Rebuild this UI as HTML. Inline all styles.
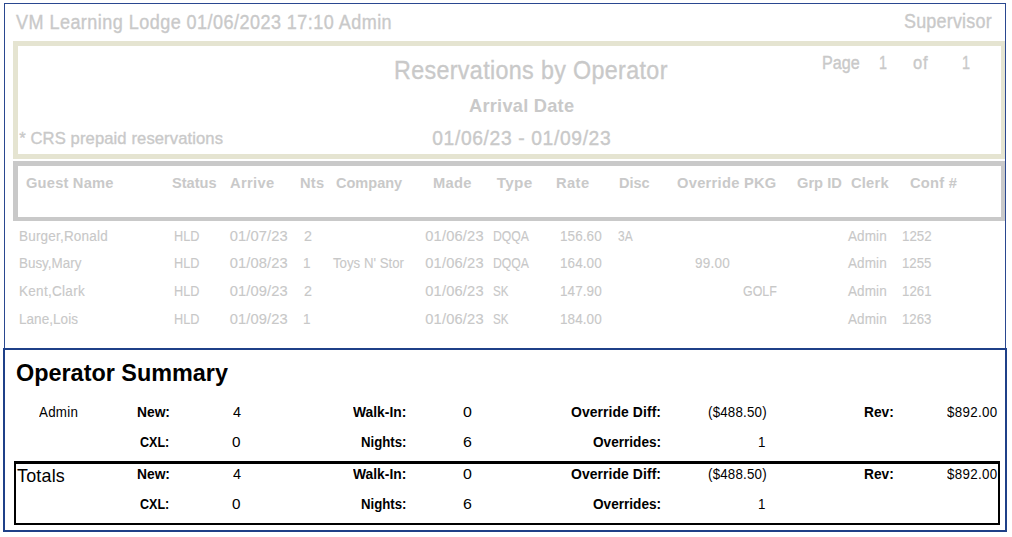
<!DOCTYPE html>
<html><head><meta charset="utf-8"><style>
html,body{margin:0;padding:0;background:#fff;}
body{width:1012px;height:537px;position:relative;overflow:hidden;font-family:"Liberation Sans",sans-serif;}
.t{position:absolute;white-space:nowrap;line-height:normal;transform-origin:0 0;}
.g{-webkit-text-stroke:0.35px currentColor;}
.g2{-webkit-text-stroke:0.12px currentColor;}
.h{-webkit-text-stroke:0.4px currentColor;}
</style></head><body>

<div style="position:absolute;left:4px;top:3px;width:1002px;height:346px;border:1px solid #2a4890;border-bottom:none;box-sizing:border-box;"></div>
<div style="position:absolute;left:13px;top:41px;width:992px;height:118px;box-sizing:border-box;border-style:solid;border-color:#e5e4d1;border-width:5px 4px 5px 5.5px;"></div>
<div style="position:absolute;left:13px;top:161px;width:992px;height:60px;box-sizing:border-box;border-style:solid;border-color:#c9c9c9;border-width:5px 4px 4px 5.5px;"></div>
<div style="position:absolute;left:3px;top:348px;width:1004px;height:184px;box-sizing:border-box;border:2px solid #1f4088;"></div>
<div style="position:absolute;left:14px;top:461px;width:986px;height:64px;box-sizing:border-box;border-style:solid;border-color:#000;border-width:3px 2px 2px 2px;"></div>

<div class="t g" style="left:16.41px;top:10.86px;font-size:19.6px;color:#c9c9c9;letter-spacing:0.497px;transform:scaleX(0.9200);">VM Learning Lodge 01/06/2023 17:10 Admin</div>
<div class="t g" style="left:904.19px;top:10.45px;font-size:19.5px;color:#c9c9c9;letter-spacing:0.232px;transform:scaleX(0.9200);">Supervisor</div>
<div class="t g" style="left:393.88px;top:56.20px;font-size:25.3px;color:#c9c9c9;letter-spacing:0.389px;transform:scaleX(0.9200);">Reservations by Operator</div>
<div class="t g" style="left:821.67px;top:53.01px;font-size:18px;color:#c9c9c9;transform:scaleX(0.8974);">Page</div>
<div class="t g" style="left:879.12px;top:53.01px;font-size:18px;color:#c9c9c9;transform:scaleX(0.8000);">1</div>
<div class="t g" style="left:913.30px;top:53.01px;font-size:18px;color:#c9c9c9;letter-spacing:0.952px;transform:scaleX(0.9200);">of</div>
<div class="t g" style="left:962.42px;top:53.01px;font-size:18px;color:#c9c9c9;transform:scaleX(0.8000);">1</div>
<div class="t" style="left:469.04px;top:95.10px;font-size:19px;color:#c9c9c9;font-weight:bold;letter-spacing:0.253px;transform:scaleX(0.9600);">Arrival Date</div>
<div class="t g" style="left:19.21px;top:128.88px;font-size:16.6px;color:#c9c9c9;letter-spacing:0.109px;">* CRS prepaid reservations</div>
<div class="t g" style="left:432.23px;top:127.53px;font-size:19.3px;color:#c9c9c9;letter-spacing:0.623px;">01/06/23 - 01/09/23</div>
<div class="t" style="left:25.71px;top:174.15px;font-size:15.3px;color:#c9c9c9;font-weight:bold;letter-spacing:0.204px;transform:scaleX(0.9600);">Guest Name</div>
<div class="t" style="left:171.96px;top:174.15px;font-size:15.3px;color:#c9c9c9;font-weight:bold;transform:scaleX(0.9547);">Status</div>
<div class="t" style="left:230.33px;top:174.15px;font-size:15.3px;color:#c9c9c9;font-weight:bold;letter-spacing:0.353px;transform:scaleX(0.9600);">Arrive</div>
<div class="t" style="left:300.01px;top:174.15px;font-size:15.3px;color:#c9c9c9;font-weight:bold;letter-spacing:0.277px;transform:scaleX(0.9600);">Nts</div>
<div class="t" style="left:336.22px;top:174.15px;font-size:15.3px;color:#c9c9c9;font-weight:bold;transform:scaleX(0.9492);">Company</div>
<div class="t" style="left:432.61px;top:174.15px;font-size:15.3px;color:#c9c9c9;font-weight:bold;letter-spacing:0.292px;transform:scaleX(0.9600);">Made</div>
<div class="t" style="left:496.85px;top:174.15px;font-size:15.3px;color:#c9c9c9;font-weight:bold;letter-spacing:0.270px;">Type</div>
<div class="t" style="left:556.21px;top:174.15px;font-size:15.3px;color:#c9c9c9;font-weight:bold;letter-spacing:0.428px;transform:scaleX(0.9600);">Rate</div>
<div class="t" style="left:619.02px;top:174.15px;font-size:15.3px;color:#c9c9c9;font-weight:bold;transform:scaleX(0.9504);">Disc</div>
<div class="t" style="left:676.91px;top:174.15px;font-size:15.3px;color:#c9c9c9;font-weight:bold;letter-spacing:0.283px;transform:scaleX(0.9600);">Override PKG</div>
<div class="t" style="left:797.21px;top:174.15px;font-size:15.3px;color:#c9c9c9;font-weight:bold;transform:scaleX(0.9587);">Grp ID</div>
<div class="t" style="left:850.91px;top:174.15px;font-size:15.3px;color:#c9c9c9;font-weight:bold;letter-spacing:0.216px;transform:scaleX(0.9600);">Clerk</div>
<div class="t" style="left:909.71px;top:174.15px;font-size:15.3px;color:#c9c9c9;font-weight:bold;letter-spacing:0.256px;transform:scaleX(0.9600);">Conf #</div>
<div class="t g2" style="left:19.28px;top:227.60px;font-size:14.7px;color:#c8c8c8;letter-spacing:0.209px;transform:scaleX(0.9200);">Burger,Ronald</div>
<div class="t g2" style="left:174.25px;top:227.60px;font-size:14.7px;color:#c8c8c8;transform:scaleX(0.8622);">HLD</div>
<div class="t g2" style="left:229.81px;top:227.60px;font-size:14.7px;color:#c8c8c8;letter-spacing:0.085px;">01/07/23</div>
<div class="t g2" style="left:303.89px;top:227.60px;font-size:14.7px;color:#c8c8c8;transform:scaleX(0.9718);">2</div>
<div class="t g2" style="left:425.21px;top:227.60px;font-size:14.7px;color:#c8c8c8;letter-spacing:0.170px;">01/06/23</div>
<div class="t g2" style="left:492.99px;top:227.60px;font-size:14.7px;color:#c8c8c8;transform:scaleX(0.8325);">DQQA</div>
<div class="t g2" style="left:559.99px;top:227.60px;font-size:14.7px;color:#c8c8c8;letter-spacing:0.081px;transform:scaleX(0.9200);">156.60</div>
<div class="t g2" style="left:617.95px;top:227.60px;font-size:14.7px;color:#c8c8c8;transform:scaleX(0.8111);">3A</div>
<div class="t g2" style="left:848.17px;top:227.60px;font-size:14.7px;color:#c8c8c8;letter-spacing:0.101px;transform:scaleX(0.9200);">Admin</div>
<div class="t g2" style="left:901.60px;top:227.60px;font-size:14.7px;color:#c8c8c8;transform:scaleX(0.9049);">1252</div>
<div class="t g2" style="left:19.29px;top:255.20px;font-size:14.7px;color:#c8c8c8;transform:scaleX(0.9135);">Busy,Mary</div>
<div class="t g2" style="left:174.25px;top:255.20px;font-size:14.7px;color:#c8c8c8;transform:scaleX(0.8622);">HLD</div>
<div class="t g2" style="left:229.81px;top:255.20px;font-size:14.7px;color:#c8c8c8;letter-spacing:0.085px;">01/08/23</div>
<div class="t g2" style="left:303.24px;top:255.20px;font-size:14.7px;color:#c8c8c8;transform:scaleX(0.9200);">1</div>
<div class="t g2" style="left:332.50px;top:255.20px;font-size:14.7px;color:#c8c8c8;transform:scaleX(0.9015);">Toys N' Stor</div>
<div class="t g2" style="left:425.21px;top:255.20px;font-size:14.7px;color:#c8c8c8;letter-spacing:0.170px;">01/06/23</div>
<div class="t g2" style="left:492.99px;top:255.20px;font-size:14.7px;color:#c8c8c8;transform:scaleX(0.8325);">DQQA</div>
<div class="t g2" style="left:559.99px;top:255.20px;font-size:14.7px;color:#c8c8c8;letter-spacing:0.081px;transform:scaleX(0.9200);">164.00</div>
<div class="t g2" style="left:694.66px;top:255.20px;font-size:14.7px;color:#c8c8c8;letter-spacing:0.246px;transform:scaleX(0.9200);">99.00</div>
<div class="t g2" style="left:848.17px;top:255.20px;font-size:14.7px;color:#c8c8c8;letter-spacing:0.101px;transform:scaleX(0.9200);">Admin</div>
<div class="t g2" style="left:901.61px;top:255.20px;font-size:14.7px;color:#c8c8c8;transform:scaleX(0.9006);">1255</div>
<div class="t g2" style="left:19.28px;top:282.90px;font-size:14.7px;color:#c8c8c8;letter-spacing:0.313px;transform:scaleX(0.9200);">Kent,Clark</div>
<div class="t g2" style="left:174.25px;top:282.90px;font-size:14.7px;color:#c8c8c8;transform:scaleX(0.8622);">HLD</div>
<div class="t g2" style="left:229.81px;top:282.90px;font-size:14.7px;color:#c8c8c8;letter-spacing:0.085px;">01/09/23</div>
<div class="t g2" style="left:303.89px;top:282.90px;font-size:14.7px;color:#c8c8c8;transform:scaleX(0.9718);">2</div>
<div class="t g2" style="left:425.21px;top:282.90px;font-size:14.7px;color:#c8c8c8;letter-spacing:0.170px;">01/06/23</div>
<div class="t g2" style="left:493.48px;top:282.90px;font-size:14.7px;color:#c8c8c8;transform:scaleX(0.7881);">SK</div>
<div class="t g2" style="left:559.99px;top:282.90px;font-size:14.7px;color:#c8c8c8;letter-spacing:0.081px;transform:scaleX(0.9200);">147.90</div>
<div class="t g2" style="left:742.68px;top:282.90px;font-size:14.7px;color:#c8c8c8;transform:scaleX(0.8450);">GOLF</div>
<div class="t g2" style="left:848.17px;top:282.90px;font-size:14.7px;color:#c8c8c8;letter-spacing:0.101px;transform:scaleX(0.9200);">Admin</div>
<div class="t g2" style="left:901.60px;top:282.90px;font-size:14.7px;color:#c8c8c8;transform:scaleX(0.9038);">1261</div>
<div class="t g2" style="left:19.28px;top:310.60px;font-size:14.7px;color:#c8c8c8;letter-spacing:0.045px;transform:scaleX(0.9200);">Lane,Lois</div>
<div class="t g2" style="left:174.25px;top:310.60px;font-size:14.7px;color:#c8c8c8;transform:scaleX(0.8622);">HLD</div>
<div class="t g2" style="left:229.81px;top:310.60px;font-size:14.7px;color:#c8c8c8;letter-spacing:0.085px;">01/09/23</div>
<div class="t g2" style="left:303.24px;top:310.60px;font-size:14.7px;color:#c8c8c8;transform:scaleX(0.9200);">1</div>
<div class="t g2" style="left:425.21px;top:310.60px;font-size:14.7px;color:#c8c8c8;letter-spacing:0.170px;">01/06/23</div>
<div class="t g2" style="left:493.48px;top:310.60px;font-size:14.7px;color:#c8c8c8;transform:scaleX(0.7881);">SK</div>
<div class="t g2" style="left:559.99px;top:310.60px;font-size:14.7px;color:#c8c8c8;letter-spacing:0.081px;transform:scaleX(0.9200);">184.00</div>
<div class="t g2" style="left:848.17px;top:310.60px;font-size:14.7px;color:#c8c8c8;letter-spacing:0.101px;transform:scaleX(0.9200);">Admin</div>
<div class="t g2" style="left:901.61px;top:310.60px;font-size:14.7px;color:#c8c8c8;transform:scaleX(0.9016);">1263</div>
<div class="t" style="left:15.86px;top:359.05px;font-size:24.7px;color:#000;font-weight:bold;transform:scaleX(0.9479);">Operator Summary</div>
<div class="t" style="left:38.97px;top:404.08px;font-size:14.5px;color:#000;letter-spacing:0.294px;transform:scaleX(0.9200);">Admin</div>
<div class="t" style="left:17.00px;top:465.50px;font-size:17.9px;color:#000;letter-spacing:0.213px;">Totals</div>
<div class="t" style="left:136.77px;top:403.68px;font-size:14.5px;color:#000;font-weight:bold;transform:scaleX(0.9516);">New:</div>
<div class="t" style="left:140.40px;top:434.48px;font-size:14.5px;color:#000;font-weight:bold;transform:scaleX(0.8630);">CXL:</div>
<div class="t" style="left:232.67px;top:403.68px;font-size:14.5px;color:#000;transform:scaleX(0.9969);">4</div>
<div class="t" style="left:232.39px;top:434.48px;font-size:14.5px;color:#000;transform:scaleX(1.0543);">0</div>
<div class="t" style="left:353.00px;top:403.68px;font-size:14.5px;color:#000;font-weight:bold;transform:scaleX(0.9550);">Walk-In:</div>
<div class="t" style="left:360.81px;top:434.48px;font-size:14.5px;color:#000;font-weight:bold;transform:scaleX(0.9104);">Nights:</div>
<div class="t" style="left:462.96px;top:403.68px;font-size:14.5px;color:#000;transform:scaleX(1.1000);">0</div>
<div class="t" style="left:462.80px;top:434.48px;font-size:14.5px;color:#000;transform:scaleX(1.1000);">6</div>
<div class="t" style="left:570.94px;top:403.68px;font-size:14.5px;color:#000;font-weight:bold;letter-spacing:0.083px;transform:scaleX(0.9600);">Override Diff:</div>
<div class="t" style="left:592.86px;top:434.48px;font-size:14.5px;color:#000;font-weight:bold;transform:scaleX(0.9380);">Overrides:</div>
<div class="t" style="left:708.17px;top:403.68px;font-size:14.5px;color:#000;letter-spacing:0.209px;transform:scaleX(0.9200);">($488.50)</div>
<div class="t" style="left:757.83px;top:434.48px;font-size:14.5px;color:#000;transform:scaleX(0.9200);">1</div>
<div class="t" style="left:864.07px;top:403.68px;font-size:14.5px;color:#000;font-weight:bold;transform:scaleX(0.9459);">Rev:</div>
<div class="t" style="left:946.87px;top:403.68px;font-size:14.5px;color:#000;letter-spacing:0.370px;transform:scaleX(0.9200);">$892.00</div>
<div class="t" style="left:136.77px;top:465.88px;font-size:14.5px;color:#000;font-weight:bold;transform:scaleX(0.9516);">New:</div>
<div class="t" style="left:140.40px;top:496.28px;font-size:14.5px;color:#000;font-weight:bold;transform:scaleX(0.8630);">CXL:</div>
<div class="t" style="left:232.67px;top:465.88px;font-size:14.5px;color:#000;transform:scaleX(0.9969);">4</div>
<div class="t" style="left:232.39px;top:496.28px;font-size:14.5px;color:#000;transform:scaleX(1.0543);">0</div>
<div class="t" style="left:353.00px;top:465.88px;font-size:14.5px;color:#000;font-weight:bold;transform:scaleX(0.9550);">Walk-In:</div>
<div class="t" style="left:360.81px;top:496.28px;font-size:14.5px;color:#000;font-weight:bold;transform:scaleX(0.9104);">Nights:</div>
<div class="t" style="left:462.96px;top:465.88px;font-size:14.5px;color:#000;transform:scaleX(1.1000);">0</div>
<div class="t" style="left:462.80px;top:496.28px;font-size:14.5px;color:#000;transform:scaleX(1.1000);">6</div>
<div class="t" style="left:570.94px;top:465.88px;font-size:14.5px;color:#000;font-weight:bold;letter-spacing:0.083px;transform:scaleX(0.9600);">Override Diff:</div>
<div class="t" style="left:592.86px;top:496.28px;font-size:14.5px;color:#000;font-weight:bold;transform:scaleX(0.9380);">Overrides:</div>
<div class="t" style="left:708.17px;top:465.88px;font-size:14.5px;color:#000;letter-spacing:0.209px;transform:scaleX(0.9200);">($488.50)</div>
<div class="t" style="left:757.83px;top:496.28px;font-size:14.5px;color:#000;transform:scaleX(0.9200);">1</div>
<div class="t" style="left:864.07px;top:465.88px;font-size:14.5px;color:#000;font-weight:bold;transform:scaleX(0.9459);">Rev:</div>
<div class="t" style="left:946.87px;top:465.88px;font-size:14.5px;color:#000;letter-spacing:0.370px;transform:scaleX(0.9200);">$892.00</div>
</body></html>
